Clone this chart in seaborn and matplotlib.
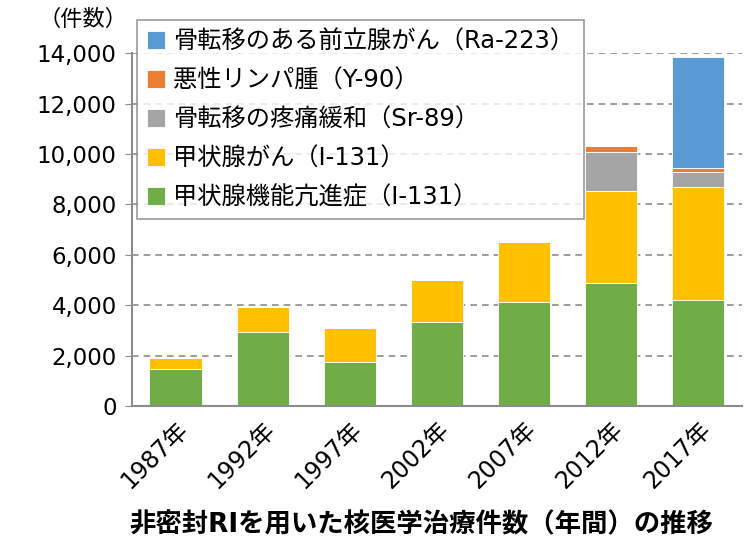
import numpy as np
import pandas as pd
import seaborn as sns
import matplotlib.pyplot as plt

years = ["1987年", "1992年", "1997年", "2002年", "2007年", "2012年", "2017年"]
hyper = [1470, 2960, 1750, 3350, 4150, 4900, 4210]     # 甲状腺機能亢進症
thyroid_ca = [460, 990, 1340, 1660, 2380, 3640, 4500]  # 甲状腺がん
sr89 = [0, 0, 0, 0, 0, 1560, 580]
y90 = [0, 0, 0, 0, 0, 210, 160]
ra223 = [0, 0, 0, 0, 0, 0, 4410]

series = [
    ("甲状腺機能亢進症（I-131）", hyper, "#70AD47"),
    ("甲状腺がん（I-131）", thyroid_ca, "#FFC000"),
    ("骨転移の疼痛緩和（Sr-89）", sr89, "#A5A5A5"),
    ("悪性リンパ腫（Y-90）", y90, "#ED7D31"),
    ("骨転移のある前立腺がん（Ra-223）", ra223, "#5B9BD5"),
]

sns.set_style("white")
plt.rcParams['font.family'] = ['DejaVu Sans', 'Noto Sans CJK JP']
plt.rcParams['text.color'] = 'black'
plt.rcParams['xtick.color'] = 'black'
plt.rcParams['ytick.color'] = 'black'

fig = plt.figure(figsize=(7.46, 5.43), dpi=100)
ax = fig.add_axes([0.177, 0.252, 0.817, 0.65])

bottom = np.zeros(len(years))
for name, vals, col in series:
    sns.barplot(x=years, y=vals, bottom=bottom, color=col, width=0.6,
                saturation=1, edgecolor="white", linewidth=0.6,
                label=name, ax=ax)
    bottom += np.array(vals)

ax.set_ylim(0, 14000)
ax.set_yticks(range(0, 14001, 2000))
ax.set_yticklabels([f"{v:,}" for v in range(0, 14001, 2000)], fontsize=16.5)
ax.yaxis.grid(True, linestyle=(0, (4, 3)), color="#8c8c8c", linewidth=1.2)
ax.set_axisbelow(True)
ax.tick_params(axis="y", length=5, color="#8c8c8c", left=True, pad=6)
ax.tick_params(axis="x", length=0, pad=8)
for lab in ax.get_xticklabels():
    lab.set_rotation(45)
    lab.set_ha("right")
    lab.set_rotation_mode("anchor")
    lab.set_fontsize(17)
ax.set_xlabel("")
ax.set_ylabel("")
for s in ["top", "right"]:
    ax.spines[s].set_visible(False)
for s in ["left", "bottom"]:
    ax.spines[s].set_color("#8c8c8c")
    ax.spines[s].set_linewidth(1.5)

handles, labels = ax.get_legend_handles_labels()
leg = ax.legend(handles[::-1], labels[::-1], loc="upper left",
                bbox_to_anchor=(0.008, 1.095), fontsize=17.5, frameon=True,
                fancybox=False, edgecolor="#808080", handlelength=0.75,
                handleheight=0.75, handletextpad=0.35, labelspacing=0.62,
                borderpad=0.4, borderaxespad=0)
leg.get_frame().set_linewidth(1.2)

fig.text(0.052, 0.965, "（件数）", fontsize=16, ha="left", va="center")
fig.text(0.565, 0.033, "非密封RIを用いた核医学治療件数（年間）の推移",
         fontsize=19, fontweight="bold", ha="center", va="center")

fig.savefig("out.png", dpi=100)
